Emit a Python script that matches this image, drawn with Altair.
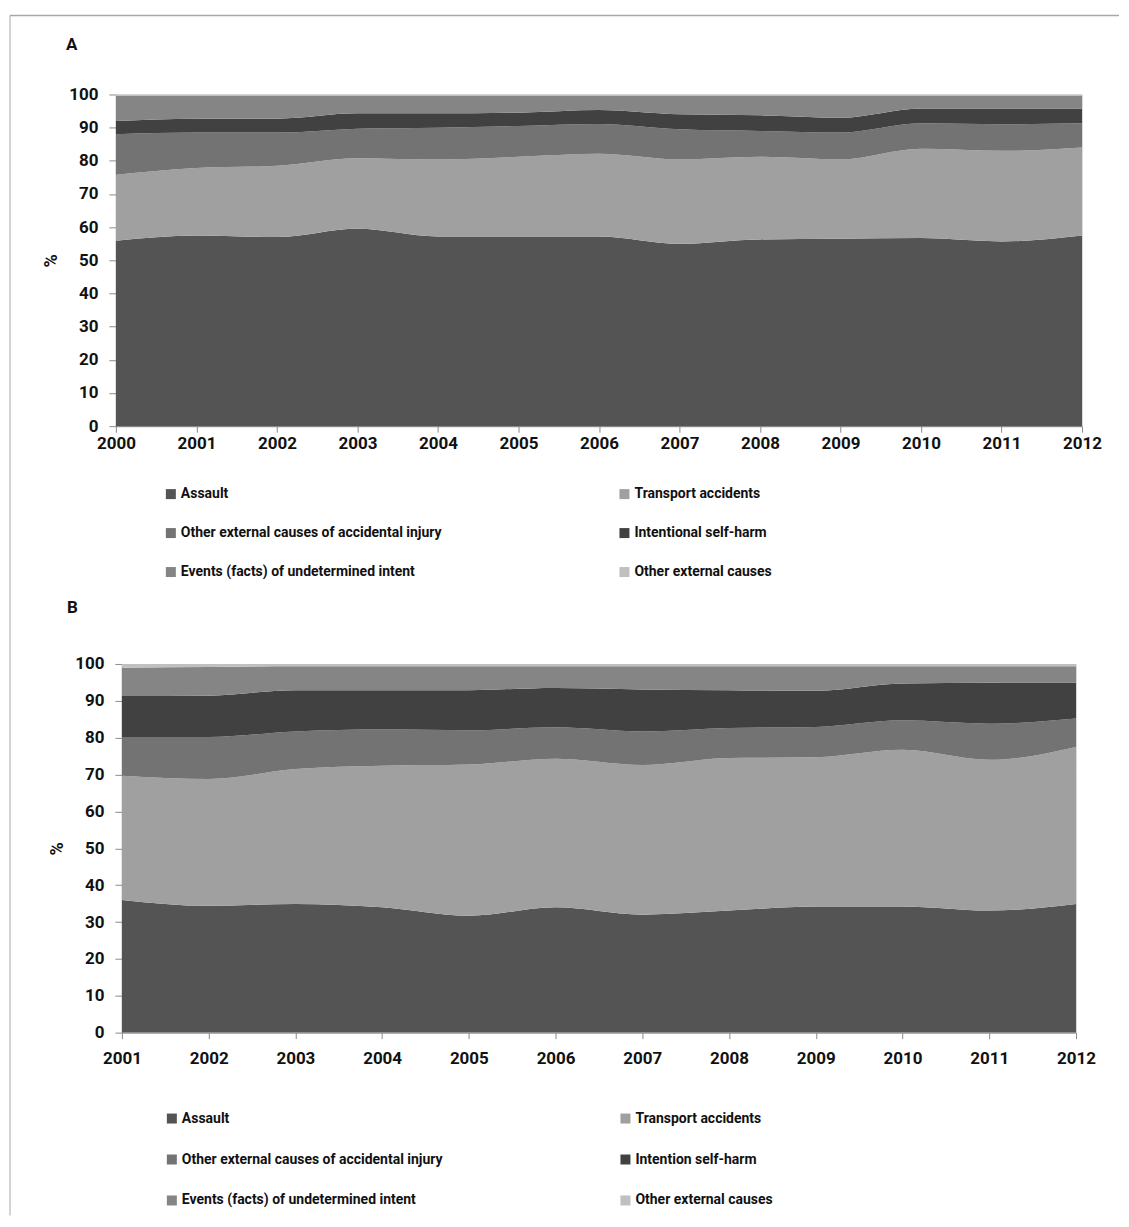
import altair as alt
import pandas as pd

FONT = "Liberation Sans Narrow, Arial Narrow, Roboto, DejaVu Sans, sans-serif"

colors = ["#545454", "#a0a0a0", "#737373", "#414141", "#858585", "#c0c0c0"]

causes_a = ["Assault", "Transport accidents", "Other external causes of accidental injury",
            "Intentional self-harm", "Events (facts) of undetermined intent", "Other external causes"]
causes_b = ["Assault", "Transport accidents", "Other external causes of accidental injury",
            "Intention self-harm", "Events (facts) of undetermined intent", "Other external causes"]

# Panel A (2000-2012), % share of each cause
years_a = list(range(2000, 2013))
a_assault = [55.9, 57.5, 57.0, 59.5, 57.2, 57.2, 57.2, 55.0, 56.3, 56.5, 56.7, 55.7, 57.5]
a_transport = [19.9, 20.3, 21.5, 21.3, 23.2, 24.0, 24.9, 25.4, 24.9, 23.9, 26.9, 27.3, 26.5]
a_other_acc = [12.2, 10.7, 10.0, 8.9, 9.6, 9.3, 9.0, 9.1, 7.8, 8.1, 7.7, 8.0, 7.3]
a_selfharm = [4.0, 4.2, 4.2, 4.6, 4.3, 4.0, 4.2, 4.5, 4.7, 4.5, 4.5, 4.8, 4.5]
a_undetermined = [7.5, 6.8, 6.8, 5.2, 5.2, 5.0, 4.2, 5.5, 5.8, 6.5, 3.7, 3.7, 3.7]
a_other_ext = [0.5, 0.5, 0.5, 0.5, 0.5, 0.5, 0.5, 0.5, 0.5, 0.5, 0.5, 0.5, 0.5]

# Panel B (2001-2012)
years_b = list(range(2001, 2013))
b_assault = [36.0, 34.4, 34.9, 34.0, 31.7, 34.0, 32.0, 33.1, 34.2, 34.2, 33.1, 34.9]
b_transport = [33.7, 34.4, 36.6, 38.4, 41.0, 40.3, 40.6, 41.4, 40.5, 42.5, 40.9, 42.6]
b_other_acc = [10.5, 11.4, 10.2, 9.8, 9.3, 8.5, 9.1, 8.1, 8.2, 8.0, 9.8, 7.7]
b_selfharm = [11.1, 11.2, 11.2, 10.7, 10.9, 10.7, 11.4, 10.3, 9.8, 10.0, 11.1, 9.8]
b_undetermined = [7.7, 7.8, 6.5, 6.5, 6.5, 5.9, 6.3, 6.5, 6.7, 4.7, 4.5, 4.4]
b_other_ext = [1.0, 0.8, 0.6, 0.6, 0.6, 0.6, 0.6, 0.6, 0.6, 0.6, 0.6, 0.6]

y_ticks = list(range(0, 101, 10))


def long_df(years, series, names):
    rows = []
    for idx, (name, vals) in enumerate(zip(names, series)):
        for yr, v in zip(years, vals):
            rows.append({"year": yr, "cause": name, "value": v, "idx": idx})
    return pd.DataFrame(rows)


def panel(years, series, names, width, height, leg_x, leg_y, row_pad, x_pad, letter, letter_xy,
          frame=False):
    df = long_df(years, series, names)
    area = alt.Chart(df).mark_area(interpolate="monotone", strokeWidth=0).encode(
        x=alt.X("year:Q", scale=alt.Scale(domain=[years[0], years[-1]], nice=False, zero=False),
                axis=alt.Axis(values=years, format="d", title=None, labelFontSize=17,
                              labelFontWeight="bold", labelFont=FONT, labelColor="#111",
                              tickSize=6, labelPadding=x_pad, domainColor="#8a8a8a",
                              tickColor="#8a8a8a", grid=False, labelFlush=False)),
        y=alt.Y("value:Q", stack="zero",
                scale=alt.Scale(domain=[0, 100], nice=False),
                axis=alt.Axis(values=y_ticks, title="%", titleFontSize=18, titleFont=FONT,
                              titleFontWeight="bold", titleColor="#111", titlePadding=8,
                              labelFontSize=17, labelFontWeight="bold", labelFont=FONT,
                              labelColor="#111", tickSize=7, labelPadding=11,
                              domainColor="#8a8a8a", tickColor="#8a8a8a", grid=False)),
        color=alt.Color("cause:N", scale=alt.Scale(domain=names, range=colors),
                        legend=alt.Legend(title=None, orient="none", legendX=leg_x, legendY=leg_y,
                                          direction="horizontal",
                                          columns=2, columnPadding=175, rowPadding=row_pad,
                                          symbolType="square", symbolSize=100,
                                          symbolStrokeWidth=0, labelFont=FONT, labelFontSize=14,
                                          labelFontWeight="bold", labelColor="#111",
                                          labelLimit=500, labelOffset=3)),
        order=alt.Order("idx:Q", sort="ascending"),
    )
    one = alt.Chart(pd.DataFrame({"k": [0]}))
    txt = one.mark_text(text=letter, align="left", baseline="middle", fontSize=17,
                        fontWeight="bold", font=FONT, color="#111").encode(
        x=alt.value(letter_xy[0]), y=alt.value(letter_xy[1]))
    layers = [area, txt]
    if frame:
        top = one.mark_rule(color="#a8a8a8", strokeWidth=1.5).encode(
            x=alt.value(-106), x2=alt.value(1004), y=alt.value(-79))
        left = one.mark_rule(color="#a8a8a8", strokeWidth=1).encode(
            x=alt.value(-106), y=alt.value(-79), y2=alt.value(1122))
        layers += [top, left]
    return alt.layer(*layers).properties(width=width, height=height)


chart_a = panel(years_a, [a_assault, a_transport, a_other_acc, a_selfharm, a_undetermined, a_other_ext],
                causes_a, 967, 332, 48, 393, 25, 3, "A", (-50, -50), frame=True)
chart_b = panel(years_b, [b_assault, b_transport, b_other_acc, b_selfharm, b_undetermined, b_other_ext],
                causes_b, 955, 369, 43, 448, 27, 12, "B", (-55, -56))

chart = alt.vconcat(chart_a, chart_b, spacing=238, bounds="flush", center=True).resolve_scale(
    color="independent", x="independent", y="independent"
).properties(
    padding={"left": 0, "top": 5, "right": 0, "bottom": 0}
).configure_view(stroke=None).configure(background="white")

chart.save("out.html", embed_options={"renderer": "svg", "actions": False})
